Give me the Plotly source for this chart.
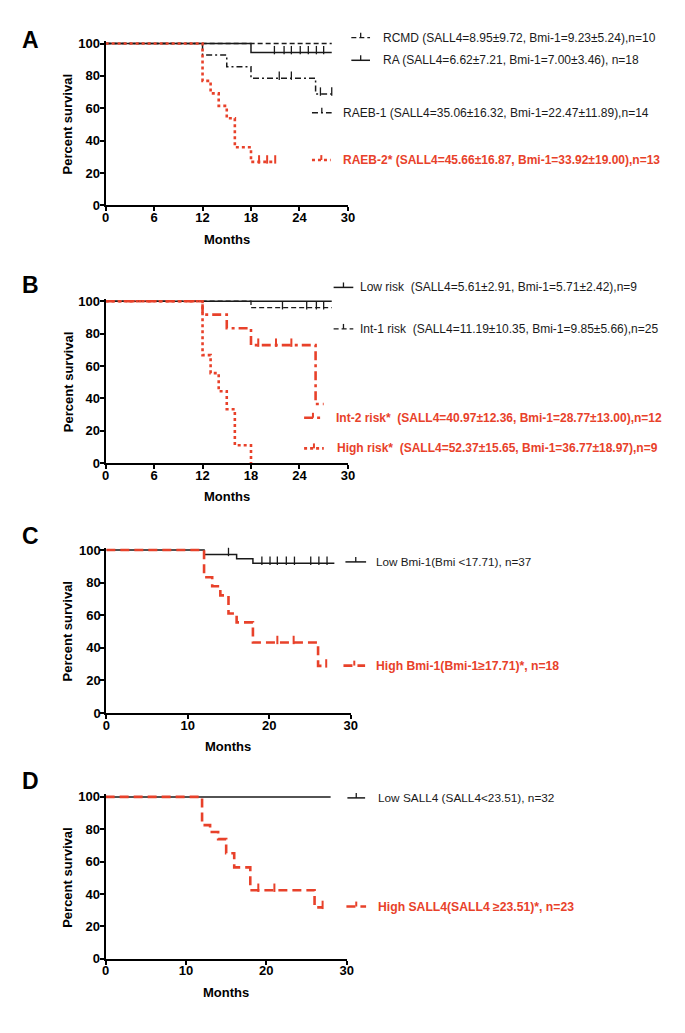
import plotly.graph_objects as go

W, H = 685, 1033
RED = "#E8412A"
BLK = "#1a1a1a"
FONT = "Liberation Sans, Arial, sans-serif"

# ---------------- data (months, percent survival) ----------------
# Panel A
a_rcmd_t, a_rcmd_s = [], []
a_rcmd_cens, a_rcmd_end = [15.0, 25.0, 25.9, 26.9, 27.7], 28.0
a_ra_t, a_ra_s = [18], [94.4]
a_ra_cens, a_ra_end = [20.9, 22.1, 23.0, 24.1, 25.1, 26.1, 27.0], 28.0
a_raeb1_t, a_raeb1_s = [12, 15, 18, 26], [92.9, 85.7, 78.6, 68.8]
a_raeb1_cens, a_raeb1_end = [21.5, 23.0, 26.6, 28.0], 28.0
a_raeb2_t, a_raeb2_s = [12, 13, 14, 15, 16, 18], [76.9, 69.2, 61.5, 53.8, 35.9, 26.9]
a_raeb2_cens, a_raeb2_end = [19.0, 20.0, 21.0], 21.0

# Panel B
b_low_t, b_low_s = [], []
b_low_cens, b_low_end = [21.1, 23.1, 27.0, 28.0], 28.0
b_int1_t, b_int1_s = [18], [96.0]
b_int1_cens, b_int1_end = [21.9, 24.9, 26.1, 27.0], 28.0
b_int2_t, b_int2_s = [12, 15, 18, 26], [91.7, 83.3, 72.9, 36.5]
b_int2_cens, b_int2_end = [18.9, 21.1, 23.0], 27.0
b_high_t, b_high_s = [12, 13, 14, 15, 16, 18], [66.7, 55.6, 44.4, 33.3, 11.1, 0.0]
b_high_cens, b_high_end = [], 18.0

# Panel C
c_low_t, c_low_s = [12, 16, 18], [97.3, 94.6, 91.9]
c_low_cens, c_low_end = [15.0, 19.1, 20.1, 21.0, 22.1, 23.1, 25.1, 26.1, 27.1], 28.0
c_high_t, c_high_s = [12, 13, 14, 15, 16, 18, 26], [83.3, 77.8, 72.2, 61.1, 55.6, 43.3, 28.9]
c_high_cens, c_high_end = [21.0, 23.0, 27.0], 27.0

# Panel D
d_low_t, d_low_s = [], []
d_low_cens, d_low_end = [15.1, 21.1, 22.1, 23.1, 25.1, 26.1, 27.0], 28.0
d_high_t, d_high_s = [12, 13, 14, 15, 16, 18, 26], [82.6, 78.3, 73.9, 65.2, 56.5, 42.4, 31.8]
d_high_cens, d_high_end = [19.0, 21.0, 27.0], 27.0

ticks_A = [0, 6, 12, 18, 24, 30]
ticks_C = [0, 10, 20, 30]
y_ticks = [0, 20, 40, 60, 80, 100]

# legend labels
lab_a = ["RCMD (SALL4=8.95±9.72, Bmi-1=9.23±5.24),n=10",
         "RA (SALL4=6.62±7.21, Bmi-1=7.00±3.46), n=18",
         "RAEB-1 (SALL4=35.06±16.32, Bmi-1=22.47±11.89),n=14",
         "RAEB-2* (SALL4=45.66±16.87, Bmi-1=33.92±19.00),n=13"]
lab_b = ["Low risk  (SALL4=5.61±2.91, Bmi-1=5.71±2.42),n=9",
         "Int-1 risk  (SALL4=11.19±10.35, Bmi-1=9.85±5.66),n=25",
         "Int-2 risk*  (SALL4=40.97±12.36, Bmi-1=28.77±13.00),n=12",
         "High risk*  (SALL4=52.37±15.65, Bmi-1=36.77±18.97),n=9"]
lab_c = ["Low Bmi-1(Bmi <17.71), n=37", "High Bmi-1(Bmi-1≥17.71)*, n=18"]
lab_d = ["Low SALL4 (SALL4<23.51), n=32", "High SALL4(SALL4 ≥23.51)*, n=23"]

# ---------------- layout helpers ----------------
def XP(px):
    return px / W

def YP(py):
    return 1 - py / H

YMAX = 101.5
# (x0px, x1px, y100px, y0px, xticks, letter, letter_y)
panels = [
    (103.3, 349.5, 39, 203, ticks_A, "A", 35),
    (103.3, 349.5, 300, 464, ticks_A, "B", 284),
    (104.0, 352.3, 552, 717, ticks_C, "C", 538),
    (103.3, 348.3, 802, 966, ticks_C, "D", 786),
]

DASH = "5px,3px"
DASHDOT = "6px,3px,2px,3px"
RDOT = "3px,3px"
RDASHDOT = "9px,4px,3px,4px"
RDASH = "9px,5px"

series = [
    # panel, t, s, cens, end, color, width, dash
    (0, a_rcmd_t, a_rcmd_s, a_rcmd_cens, a_rcmd_end, BLK, 1.3, DASH),
    (0, a_ra_t, a_ra_s, a_ra_cens, a_ra_end, BLK, 1.5, "solid"),
    (0, a_raeb1_t, a_raeb1_s, a_raeb1_cens, a_raeb1_end, BLK, 1.5, DASHDOT),
    (0, a_raeb2_t, a_raeb2_s, a_raeb2_cens, a_raeb2_end, RED, 2.6, RDOT),
    (1, b_low_t, b_low_s, b_low_cens, b_low_end, BLK, 1.5, "solid"),
    (1, b_int1_t, b_int1_s, b_int1_cens, b_int1_end, BLK, 1.3, DASH),
    (1, b_int2_t, b_int2_s, b_int2_cens, b_int2_end, RED, 2.6, RDASHDOT),
    (1, b_high_t, b_high_s, b_high_cens, b_high_end, RED, 2.6, RDOT),
    (2, c_low_t, c_low_s, c_low_cens, c_low_end, BLK, 1.5, "solid"),
    (2, c_high_t, c_high_s, c_high_cens, c_high_end, RED, 2.6, RDASH),
    (3, d_low_t, d_low_s, d_low_cens, d_low_end, BLK, 1.5, "solid"),
    (3, d_high_t, d_high_s, d_high_cens, d_high_end, RED, 2.6, RDASH),
]

fig = go.Figure()

def level_at(t_list, s_list, t):
    lv = 100.0
    for tt, ss in zip(t_list, s_list):
        if t >= tt:
            lv = ss
    return lv

for (p, t, s, cens, end, col, wd, dash) in series:
    xa = "x" if p == 0 else f"x{p+1}"
    ya = "y" if p == 0 else f"y{p+1}"
    xs = [0] + list(t) + [end]
    ys = [100] + list(s) + [s[-1] if s else 100]
    fig.add_trace(go.Scatter(x=xs, y=ys, mode="lines", line=dict(shape="hv", color=col, width=wd, dash=dash),
                             xaxis=xa, yaxis=ya, showlegend=False, hoverinfo="skip"))
    if cens:
        y0px, y100px = panels[p][3], panels[p][2]
        off = 2.5 * 100 / (y0px - y100px)
        cy = [level_at(t, s, c) + off for c in cens]
        fig.add_trace(go.Scatter(x=cens, y=cy, mode="markers", cliponaxis=False,
                                 marker=dict(symbol="line-ns", size=6, line=dict(color=col, width=1.3 if col == BLK else 2)),
                                 xaxis=xa, yaxis=ya, showlegend=False, hoverinfo="skip"))

layout = dict(width=W, height=H, margin=dict(l=0, r=0, t=0, b=0), paper_bgcolor="white",
              plot_bgcolor="white", showlegend=False, font=dict(family=FONT, color="black"))
annotations = []
shapes = []
for i, (x0, x1, y100, y0, xt, letter, ly) in enumerate(panels):
    k = "" if i == 0 else str(i + 1)
    ytop = y0 - (y0 - y100) * YMAX / 100
    layout["xaxis" + k] = dict(domain=[XP(x0), XP(x1)], range=[0, 30], anchor="y" + k, tickvals=xt,
                               showline=True, linecolor="black", linewidth=2, ticks="outside", ticklen=4,
                               tickwidth=2, tickcolor="black", showgrid=False, zeroline=False,
                               ticklabelstandoff=-5,
                               tickfont=dict(family=FONT, size=13, color="black", weight="bold"))
    layout["yaxis" + k] = dict(domain=[YP(y0), YP(ytop)], range=[0, YMAX], anchor="x" + k, tickvals=y_ticks,
                               showline=True, linecolor="black", linewidth=2, ticks="outside", ticklen=4,
                               tickwidth=2, tickcolor="black", showgrid=False, zeroline=False,
                               ticklabelstandoff=-3,
                               tickfont=dict(family=FONT, size=13, color="black", weight="bold"))
    annotations.append(dict(text=letter, x=XP(27), y=YP(ly), xref="paper", yref="paper", showarrow=False,
                            xanchor="center", yanchor="middle", font=dict(family=FONT, size=23, color="black", weight="bold")))
    annotations.append(dict(text="Months", x=XP((x0 + x1) / 2), y=YP(y0 + 34), xref="paper", yref="paper", showarrow=False,
                            xanchor="center", yanchor="middle", font=dict(family=FONT, size=13, color="black", weight="bold")))
    annotations.append(dict(text="Percent survival", x=XP(65), y=YP((y0 + y100) / 2), xref="paper", yref="paper",
                            showarrow=False, textangle=-90, xanchor="center", yanchor="middle",
                            font=dict(family=FONT, size=13, color="black", weight="bold")))

# legend entries: (label, y px, sample x0, sample x1, text x, color, dash, width, bold, font size)
legend_items = [
    (lab_a[0], 33, 353, 372, 383, BLK, DASH, 1.3, False, 12),
    (lab_a[1], 56, 353, 372, 383, BLK, "solid", 1.5, False, 12),
    (lab_a[2], 109, 313, 333, 342, BLK, DASHDOT, 1.5, False, 12),
    (lab_a[3], 157, 313, 332, 342, RED, RDOT, 2.6, True, 12),
    (lab_b[0], 286, 335, 355, 360, BLK, "solid", 1.5, False, 12),
    (lab_b[1], 328, 335, 355, 360, BLK, DASH, 1.3, False, 12),
    (lab_b[2], 418, 305, 323, 335, RED, RDASHDOT, 2.6, True, 12),
    (lab_b[3], 449, 305, 325, 336, RED, RDOT, 2.6, True, 12),
    (lab_c[0], 564, 347, 368, 376, BLK, "solid", 1.5, False, 11.7),
    (lab_c[1], 669, 345, 367, 376, RED, RDASH, 2.6, True, 12.2),
    (lab_d[0], 803, 349, 367, 378, BLK, "solid", 1.5, False, 11.8),
    (lab_d[1], 913, 348, 368, 378, RED, RDASH, 2.6, True, 12.2),
]
for (lab, yy, sx0, sx1, tx, col, dash, wd, bold, fs) in legend_items:
    shapes.append(dict(type="line", xref="paper", yref="paper", x0=XP(sx0), x1=XP(sx1), y0=YP(yy), y1=YP(yy),
                       line=dict(color=col, width=wd, dash=dash)))
    shapes.append(dict(type="line", xref="paper", yref="paper", x0=XP((sx0 + sx1) / 2), x1=XP((sx0 + sx1) / 2),
                       y0=YP(yy), y1=YP(yy - 5), line=dict(color=col, width=1.3 if col == BLK else 2)))
    annotations.append(dict(text=lab, x=XP(tx), y=YP(yy), xref="paper", yref="paper", showarrow=False,
                            xanchor="left", yanchor="middle",
                            font=dict(family=FONT, size=fs, color=col, weight="bold" if bold else "normal")))

layout["annotations"] = annotations
layout["shapes"] = shapes
fig.update_layout(**layout)

fig.write_html("out.html", config={"displayModeBar": False},
               post_script="document.body.style.margin='0';document.body.style.overflow='hidden';")
